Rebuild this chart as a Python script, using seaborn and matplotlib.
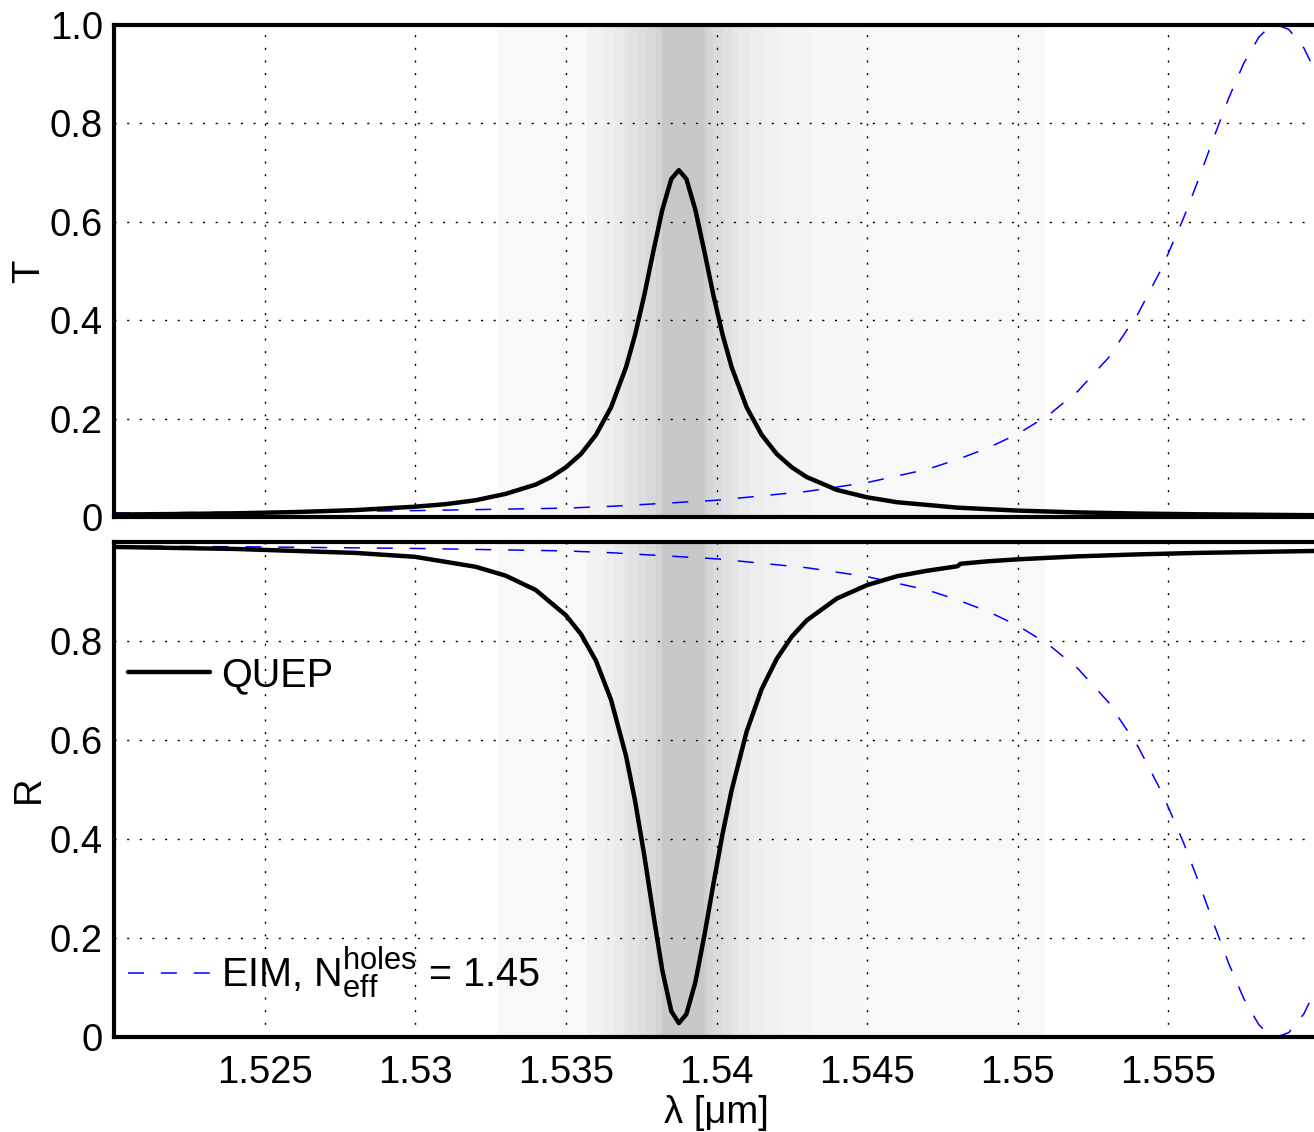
import matplotlib
matplotlib.use("Agg")
import matplotlib.pyplot as plt
import matplotlib._mathtext as _mt
import seaborn as sns
from matplotlib.lines import Line2D

# ---------------- data ----------------
lam_T_quep = [1.5200, 1.5220, 1.5240, 1.5260, 1.5280, 1.5300, 1.5310, 1.5320, 1.5330, 1.5340,
              1.5345, 1.5350, 1.5355, 1.5360, 1.5365, 1.5370, 1.5373, 1.5376, 1.5379, 1.5382,
              1.5385, 1.53875, 1.5390, 1.5393, 1.5396, 1.5399, 1.5402, 1.5405, 1.5410, 1.5415,
              1.5420, 1.5425, 1.5430, 1.5440, 1.5450, 1.5460, 1.5480, 1.5500, 1.5520, 1.5540,
              1.5560, 1.5600]
T_quep = [0.005, 0.006, 0.0075, 0.010, 0.014, 0.021, 0.026, 0.034, 0.047, 0.066,
          0.081, 0.101, 0.128, 0.167, 0.223, 0.305, 0.371, 0.450, 0.539, 0.624,
          0.687, 0.705, 0.687, 0.624, 0.539, 0.450, 0.371, 0.305, 0.223, 0.167,
          0.128, 0.101, 0.081, 0.055, 0.040, 0.030, 0.019, 0.013, 0.0093, 0.0070,
          0.0055, 0.0036]

lam_R_quep = [1.5200, 1.5240, 1.5280, 1.5300, 1.5320, 1.5330, 1.5340, 1.5350, 1.5355, 1.5360,
              1.5365, 1.5370, 1.5373, 1.5376, 1.5379, 1.5382, 1.5385, 1.53875, 1.5390, 1.5393,
              1.5396, 1.5399, 1.5402, 1.5405, 1.5410, 1.5415, 1.5420, 1.5425, 1.5430, 1.5440,
              1.5450, 1.5460, 1.5470, 1.5480, 1.5481, 1.5490, 1.5500, 1.5520, 1.5540, 1.5560,
              1.5600]
R_quep = [0.990, 0.986, 0.978, 0.970, 0.950, 0.932, 0.903, 0.852, 0.814, 0.760,
          0.681, 0.567, 0.476, 0.368, 0.249, 0.135, 0.052, 0.028, 0.046, 0.111,
          0.206, 0.310, 0.410, 0.498, 0.617, 0.703, 0.764, 0.809, 0.842, 0.886,
          0.913, 0.931, 0.942, 0.951, 0.956, 0.961, 0.965, 0.971, 0.975, 0.978,
          0.982]

lam_eim = [1.5200, 1.5250, 1.5300, 1.5350, 1.5366, 1.5400, 1.5430, 1.5450, 1.5470, 1.5480,
           1.5490, 1.5500, 1.5510, 1.5520, 1.5530, 1.5540, 1.5548, 1.5555, 1.5560, 1.5565,
           1.5570, 1.5575, 1.5580, 1.5583, 1.5586, 1.5590, 1.5595, 1.5600]
T_eim = [0.008, 0.010, 0.013, 0.018, 0.022, 0.034, 0.052, 0.070, 0.097, 0.117,
         0.140, 0.169, 0.206, 0.256, 0.323, 0.414, 0.508, 0.607, 0.686, 0.770,
         0.851, 0.922, 0.975, 0.993, 1.000, 0.991, 0.953, 0.890]
R_eim = [0.992, 0.990, 0.987, 0.982, 0.978, 0.966, 0.948, 0.930, 0.903, 0.883,
         0.860, 0.831, 0.794, 0.744, 0.677, 0.586, 0.492, 0.393, 0.314, 0.230,
         0.149, 0.078, 0.025, 0.007, 0.000, 0.009, 0.047, 0.110]

# grey background bands (wavelength edges and grey level 0-255)
band_edges = [1.5327, 1.5357, 1.5363, 1.5366, 1.5369, 1.5371, 1.5374, 1.5377, 1.5380, 1.5382,
              1.5396, 1.5397, 1.5399, 1.5402, 1.5405, 1.5407, 1.5411, 1.5415, 1.5421, 1.5431,
              1.5449, 1.5509]
band_gray = [248, 242, 238, 234, 230, 226, 222, 217, 210, 200,
             207, 213, 219, 224, 229, 233, 237, 240, 243, 246, 248]

xticks = [1.525, 1.53, 1.535, 1.54, 1.545, 1.55, 1.555]
xtick_labels = ["1.525", "1.53", "1.535", "1.54", "1.545", "1.55", "1.555"]
yticks_T = [0, 0.2, 0.4, 0.6, 0.8, 1.0]
ytick_labels_T = ["0", "0.2", "0.4", "0.6", "0.8", "1.0"]
yticks_R = [0, 0.2, 0.4, 0.6, 0.8]
ytick_labels_R = ["0", "0.2", "0.4", "0.6", "0.8"]

label_quep = "QUEP"
label_eim = r"EIM, $\mathregular{N_{eff}^{holes}}$ = 1.45"

# ---------------- style ----------------
sns.set_theme(style="white")
plt.rcParams['font.family'] = ['Liberation Sans', 'DejaVu Sans']
plt.rcParams['mathtext.fontset'] = 'custom'
plt.rcParams['mathtext.rm'] = 'Liberation Sans'
plt.rcParams['mathtext.it'] = 'Liberation Sans:italic'
plt.rcParams['mathtext.bf'] = 'Liberation Sans:bold'
for k in ('text.color', 'axes.labelcolor', 'xtick.color', 'ytick.color'):
    plt.rcParams[k] = 'black'
try:
    _mt.SHRINK_FACTOR = 0.78
except Exception:
    pass

W, H = 1314, 1132
fig = plt.figure(figsize=(W / 100, H / 100), dpi=100)
fig.patch.set_facecolor('white')
xl, xr = 114, 1319
ax1 = fig.add_axes([xl / W, 1 - 517 / H, (xr - xl) / W, (517 - 25) / H])
ax2 = fig.add_axes([xl / W, 1 - 1037 / H, (xr - xl) / W, (1037 - 542) / H])

FS = 27.5
BLUE = '#0000FF'
DASH = (0, (10.5, 11))
GRID_LS = (0, (1.5, 7.6))

for ax in (ax1, ax2):
    ax.set_facecolor('white')
    for lo, hi, g in zip(band_edges[:-1], band_edges[1:], band_gray):
        ax.axvspan(lo, hi, color=(g / 255, g / 255, g / 255), lw=0, zorder=0.5)
    ax.set_xlim(1.52, 1.56)
    ax.set_ylim(0, 1)
    ax.set_xticks(xticks)
    ax.grid(True, color='black', lw=1.0, linestyle=GRID_LS)
    for s in ax.spines.values():
        s.set_visible(True)
        s.set_linewidth(3)
        s.set_color('black')
    ax.tick_params(length=0, labelsize=FS, pad=8, colors='black')

ax1.set_yticks(yticks_T)
ax1.set_yticklabels(ytick_labels_T)
ax1.tick_params(labelbottom=False)
ax2.set_yticks(yticks_R)
ax2.set_yticklabels(ytick_labels_R)
ax2.set_xticklabels(xtick_labels)
ax2.tick_params(axis='x', pad=13)

sns.lineplot(x=lam_eim, y=T_eim, ax=ax1, color=BLUE, lw=1.1, linestyle=DASH,
             estimator=None, sort=False, legend=False)
sns.lineplot(x=lam_T_quep, y=T_quep, ax=ax1, color='black', lw=3.2,
             estimator=None, sort=False, legend=False)
sns.lineplot(x=lam_eim, y=R_eim, ax=ax2, color=BLUE, lw=1.1, linestyle=DASH,
             estimator=None, sort=False, legend=False)
sns.lineplot(x=lam_R_quep, y=R_quep, ax=ax2, color='black', lw=3.2,
             estimator=None, sort=False, legend=False)

ax1.set_ylabel("T", fontsize=FS, labelpad=2, color='black')
ax2.set_ylabel("R", fontsize=FS, labelpad=2, color='black')
ax2.set_xlabel("λ [μm]", fontsize=FS, labelpad=3, color='black')
ax1.set_xlabel("")

# legends
LFS = 28.5
fs_px = LFS * 100 / 72
h_quep = Line2D([], [], color='black', lw=3.2)
h_eim = Line2D([], [], color=BLUE, lw=1.1, linestyle=DASH)
common = dict(frameon=False, fontsize=LFS, handlelength=82 / fs_px,
              handletextpad=11 / fs_px, borderpad=0, borderaxespad=0, loc='center left',
              labelcolor='black')
leg1 = ax2.legend([h_quep], [label_quep],
                  bbox_to_anchor=((128 - xl) / (xr - xl), (1037 - 675) / 495), **common)
ax2.add_artist(leg1)
leg2 = ax2.legend([h_eim], [label_eim],
                  bbox_to_anchor=((128 - xl) / (xr - xl), (1037 - 972) / 495), **common)

fig.savefig('out.png', dpi=100, facecolor='white')
